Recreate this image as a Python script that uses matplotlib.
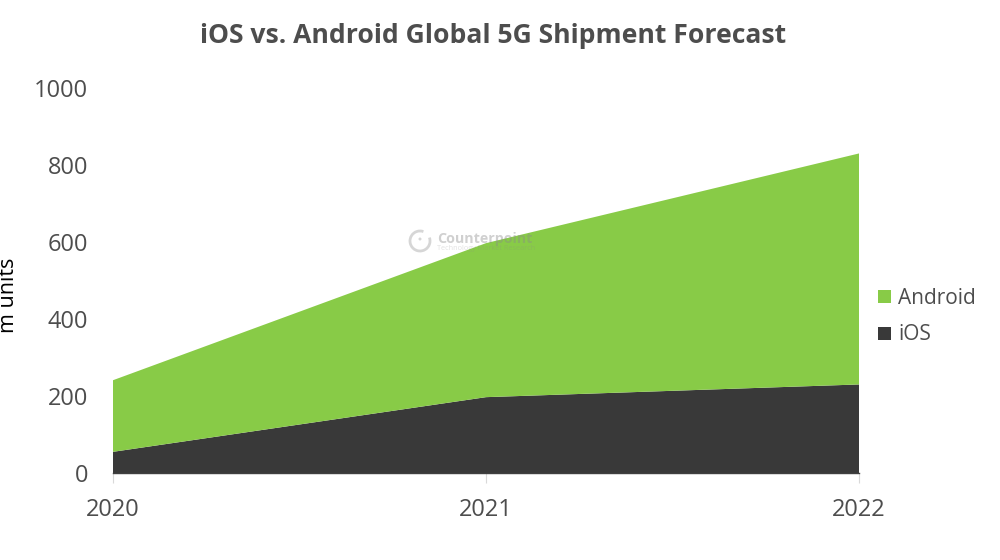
import matplotlib
matplotlib.use('Agg')
import matplotlib.pyplot as plt
from matplotlib.patches import Arc, Circle, Rectangle

years = [2020, 2021, 2022]
ios = [55, 197, 230]
android = [186, 400, 600]
y_ticks = [0, 200, 400, 600, 800, 1000]

GREEN = '#88cb47'
DARK = '#393939'
TEXT = '#4d4d4d'

plt.rcParams['font.family'] = ['Open Sans', 'DejaVu Sans']

fig = plt.figure(figsize=(10, 5.6), dpi=100, facecolor='white')
ax = fig.add_axes([0.113, 1 - 473 / 560, 0.746, 385 / 560])

# stacked area, iOS at the bottom
ax.stackplot(years, ios, android, colors=[DARK, GREEN], linewidth=0)
ax.set_xlim(years[0], years[-1])
ax.set_ylim(0, 1000)

ax.set_xticks(years)
ax.set_xticklabels([str(y) for y in years])
ax.set_yticks(y_ticks)
ax.tick_params(axis='x', length=7, width=0.8, color='#d9d9d9', labelsize=17,
               labelcolor=TEXT, pad=11)
ax.tick_params(axis='y', length=0, labelsize=17, labelcolor=TEXT, pad=18)
for side in ['top', 'right', 'left']:
    ax.spines[side].set_visible(False)
ax.spines['bottom'].set_color('#404040')
ax.spines['bottom'].set_linewidth(1.0)

fig.text(0.4935, 1 - 36 / 560, 'iOS vs. Android Global 5G Shipment Forecast',
         ha='center', va='center', fontsize=19.1, fontweight='bold', color=TEXT)
fig.text(0.009, 1 - 295 / 560, 'm units', rotation=90, ha='center', va='center',
         fontsize=15.5, color='black')

# legend drawn by hand to keep the exact layout
for text_y, label, color in [(298, 'Android', GREEN), (335, 'iOS', DARK)]:
    fig.add_artist(Rectangle((878 / 1000, 1 - (text_y + 5) / 560), 13 / 1000, 13 / 560,
                             transform=fig.transFigure, facecolor=color,
                             edgecolor='none'))
    fig.text(898 / 1000, 1 - text_y / 560, label, ha='left', va='center',
             fontsize=15, color=TEXT)

# faint watermark
fig.add_artist(Arc((420, 560 - 241), 20, 20, theta1=70, theta2=20, transform=None,
                   edgecolor='#9a9a9a', linewidth=2, alpha=0.4))
fig.add_artist(Circle((420, 560 - 239), 1.5, transform=None, facecolor='#9a9a9a',
                      edgecolor='none', alpha=0.4))
fig.text(437 / 1000, 1 - 239 / 560, 'Counterpoint', ha='left', va='center',
         fontsize=10.3, fontweight='bold', color='#8a8a8a', alpha=0.4)
fig.text(437 / 1000, 1 - 249 / 560, 'Technology Market Research', ha='left', va='center',
         fontsize=5.2, color='#8a8a8a', alpha=0.25)

fig.savefig('out.png', dpi=100, facecolor='white')
